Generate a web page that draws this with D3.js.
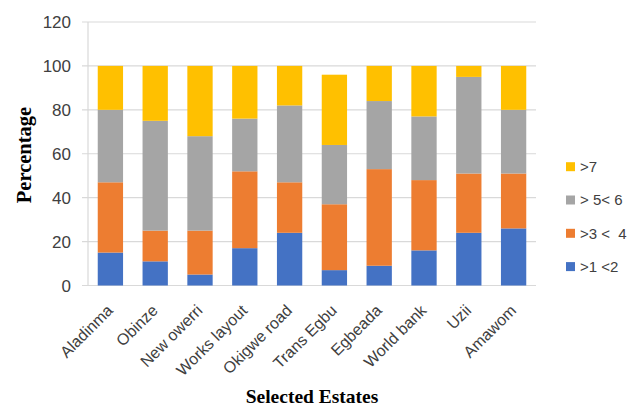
<!DOCTYPE html>
<html lang="en">
<head>
    <meta charset="UTF-8">
    <title>Selected Estates</title>
    <script src="https://d3js.org/d3.v7.min.js"></script>
    <style>
        body { margin: 0; background: #fff; }
        text { font-family: "Liberation Sans", Arial, sans-serif; fill: #404040; }
        .title { font-family: "Liberation Serif", "Times New Roman", serif; font-weight: bold; fill: #000; }
    </style>
</head>
<body>
<svg width="640" height="406"></svg>
<script type="text/javascript">
    let estates = ["Aladinma", "Obinze", "New owerri", "Works layout", "Okigwe road",
        "Trans Egbu", "Egbeada", "World bank", "Uzii", "Amawom"];
    let seriesNames = [">1 <2", ">3 <  4", "> 5< 6", ">7"];
    let colors = ["#4472C4", "#ED7D31", "#A5A5A5", "#FFC000"];
    let s1 = [15, 11, 5, 17, 24, 7, 9, 16, 24, 26];
    let s2 = [32, 14, 20, 35, 23, 30, 44, 32, 27, 25];
    let s3 = [33, 50, 43, 24, 35, 27, 31, 29, 44, 29];
    let s4 = [20, 25, 32, 24, 18, 32, 16, 23, 5, 20];
    let yTicks = [0, 20, 40, 60, 80, 100, 120];

    let svg = d3.select("svg");
    let plotLeft = 88, plotRight = 536, plotTop = 22, plotBottom = 285.5;

    let x = d3.scaleBand().domain(estates).range([plotLeft, plotRight]).paddingInner(0.435).paddingOuter(0.2175);
    let y = d3.scaleLinear().domain([0, 120]).range([plotBottom, plotTop]);

    // gridlines + y ticks
    svg.append("g").selectAll("line")
        .data(yTicks)
        .join("line")
        .attr("x1", plotLeft - 6).attr("x2", plotRight)
        .attr("y1", d => y(d)).attr("y2", d => y(d))
        .attr("stroke", "#d9d9d9").attr("stroke-width", 1.2);

    svg.append("line")
        .attr("x1", plotLeft).attr("x2", plotLeft)
        .attr("y1", plotTop).attr("y2", plotBottom)
        .attr("stroke", "#d9d9d9").attr("stroke-width", 1.2);

    svg.append("g").selectAll("text")
        .data(yTicks)
        .join("text")
        .attr("x", 71).attr("y", d => y(d))
        .attr("dy", "0.36em")
        .attr("text-anchor", "end")
        .style("font-size", "17px")
        .text(d => d);

    // stacked bars
    let rows = estates.map((e, i) => ({estate: e, s0: s1[i], s1: s2[i], s2: s3[i], s3: s4[i]}));
    let stack = d3.stack().keys(["s0", "s1", "s2", "s3"])(rows);

    svg.append("g").selectAll("g")
        .data(stack)
        .join("g")
        .attr("fill", (d, i) => colors[i])
        .selectAll("rect")
        .data(d => d)
        .join("rect")
        .attr("x", d => x(d.data.estate))
        .attr("width", x.bandwidth())
        .attr("y", d => y(d[1]))
        .attr("height", d => y(d[0]) - y(d[1]));

    // x labels, baseline end near the tick
    svg.append("g").selectAll("text")
        .data(estates)
        .join("text")
        .attr("text-anchor", "end")
        .attr("transform", d => `translate(${x(d) + x.bandwidth() / 2 + 3.5},${plotBottom + 26}) rotate(-45)`)
        .style("font-size", "16px")
        .text(d => d);

    // axis titles
    svg.append("text")
        .attr("class", "title")
        .attr("transform", `translate(31,${(107 + 203) / 2}) rotate(-90)`)
        .attr("text-anchor", "middle")
        .style("font-size", "20.5px")
        .text("Percentage");

    svg.append("text")
        .attr("class", "title")
        .attr("x", 312).attr("y", 403)
        .attr("text-anchor", "middle")
        .style("font-size", "19.5px")
        .text("Selected Estates");

    // legend (top to bottom: >7 first)
    let legendOrder = [3, 2, 1, 0];
    let legend = svg.append("g").selectAll("g")
        .data(legendOrder)
        .join("g")
        .attr("transform", (d, i) => `translate(566,${166.7 + i * 33.3})`);
    legend.append("rect")
        .attr("x", 0).attr("y", -4.5)
        .attr("width", 9).attr("height", 9)
        .attr("fill", d => colors[d]);
    legend.append("text")
        .attr("x", 14).attr("dy", "0.36em")
        .style("font-size", "15px")
        .style("white-space", "pre")
        .text(d => seriesNames[d]);
</script>
</body>
</html>
